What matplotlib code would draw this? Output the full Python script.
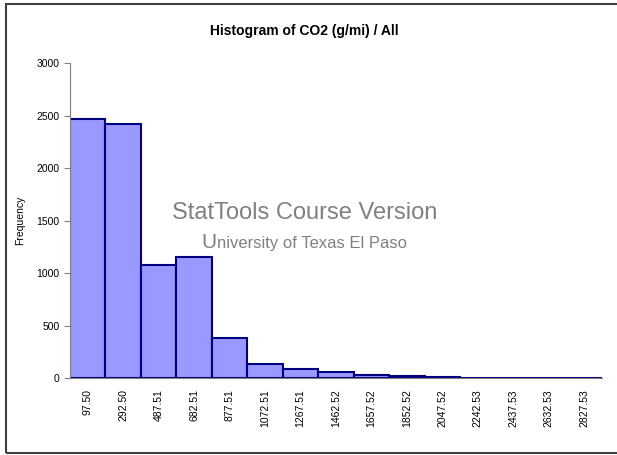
import matplotlib
matplotlib.use("Agg")
import matplotlib.pyplot as plt
from matplotlib.patches import Rectangle

# Datos del histograma
bin_labels = ["97.50", "292.50", "487.51", "682.51", "877.51", "1072.51", "1267.51",
              "1462.52", "1657.52", "1852.52", "2047.52", "2242.53", "2437.53",
              "2632.53", "2827.53"]
frecuencias = [2471, 2423, 1076, 1156, 381, 131, 82, 53, 32, 19, 6, 4, 3, 2, 1]

plt.rcParams["font.family"] = ["Liberation Sans", "DejaVu Sans"]

fig = plt.figure(figsize=(6.17, 4.55), dpi=100)
ax = fig.add_axes([0.1135, 0.1692, 0.8622, 0.6923])

x = range(len(frecuencias))
ax.bar(x, frecuencias, width=1.0, color="#9999FF", edgecolor="#000080", linewidth=1.5)
ax.set_xlim(-0.5, len(frecuencias) - 0.5)
ax.set_ylim(0, 3000)
ax.set_yticks(range(0, 3001, 500))
ax.set_xticks(list(x))
ax.set_xticklabels(bin_labels, rotation=90, fontsize=7.5)
ax.tick_params(axis="y", labelsize=7.5, length=4, color="#808080")
ax.tick_params(axis="x", length=0, pad=8)
for lado in ["top", "right"]:
    ax.spines[lado].set_visible(False)
for lado in ["left", "bottom"]:
    ax.spines[lado].set_color("#808080")
ax.set_ylabel("Frequency", fontsize=7.5, labelpad=8)

fig.text(0.494, 0.932, "Histogram of CO2 (g/mi) / All", ha="center", va="center",
         fontsize=10, fontweight="bold")

# Marca de agua
fig.text(0.494, 0.532, "StatTools Course Version", ha="center", va="center",
         fontsize=17, color="#808080")
fig.text(0.327, 0.468, "U", ha="left", va="center", fontsize=15, color="#808080")
fig.text(0.352, 0.465, "niversity of Texas El Paso", ha="left", va="center",
         fontsize=12, color="#808080")

# Borde del area del grafico
fig.patches.append(Rectangle((6 / 617, 1 - 453 / 455), 1.2, 449 / 455,
                             transform=fig.transFigure, fill=False,
                             edgecolor="#404040", linewidth=1.5))

fig.savefig("out.png", dpi=100)
